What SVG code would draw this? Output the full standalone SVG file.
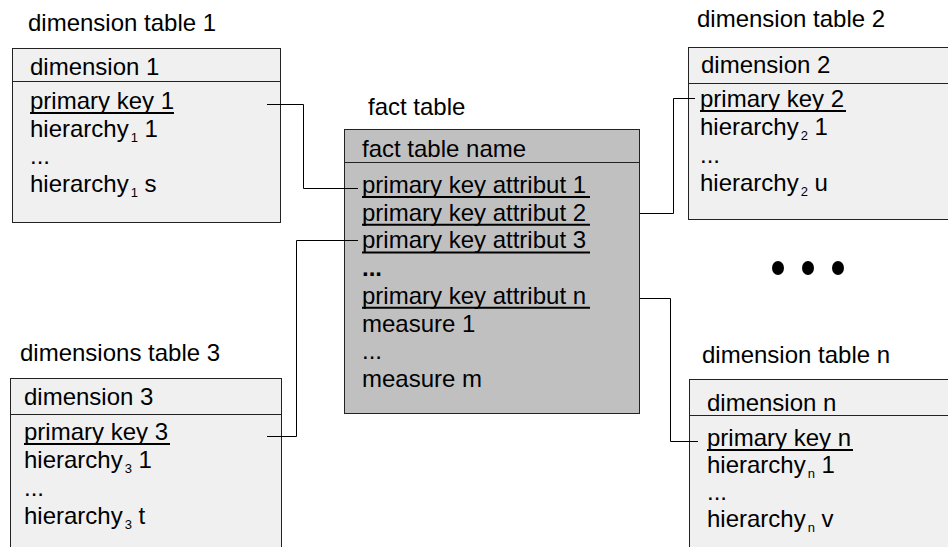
<svg xmlns="http://www.w3.org/2000/svg" width="948" height="547" viewBox="0 0 948 547">
<style>
text{font-family:"Liberation Sans",Arial,sans-serif;font-size:24px;fill:#000}
.sub{font-size:13px}
.dim{fill:#f0f0f0;stroke:#222;stroke-width:1}
.fact{fill:#c0c0c0;stroke:#222;stroke-width:1}
.div{stroke:#222;stroke-width:1}
.ul{stroke:#000;stroke-width:2}
.conn{fill:none;stroke:#000;stroke-width:1}
</style>
<rect width="948" height="547" fill="#fff"/>
<g id="dim1">
<text x="28" y="31">dimension table 1</text>
<rect class="dim" x="12.5" y="48.5" width="268" height="174"/>
<line class="div" x1="12.5" y1="81.5" x2="280.5" y2="81.5"/>
<text x="30" y="75">dimension 1</text>
<text x="30" y="109">primary key 1</text>
<line class="ul" x1="30" y1="113" x2="174" y2="113"/>
<text x="30" y="137">hierarchy<tspan class="sub" dx="2" dy="5">1</tspan><tspan dy="-5"> 1</tspan></text>
<text x="30" y="164">...</text>
<text x="30" y="192">hierarchy<tspan class="sub" dx="2" dy="5">1</tspan><tspan dy="-5"> s</tspan></text>
</g>
<g id="fact">
<text x="368" y="115">fact table</text>
<rect class="fact" x="344.5" y="129.5" width="295" height="284"/>
<line class="div" x1="344.5" y1="162.5" x2="639.5" y2="162.5"/>
<text x="362" y="157">fact table name</text>
<text x="362" y="193">primary key attribut 1</text>
<line class="ul" x1="362" y1="197" x2="590" y2="197"/>
<text x="362" y="220.7">primary key attribut 2</text>
<line class="ul" x1="362" y1="224.7" x2="590" y2="224.7"/>
<text x="362" y="248.4">primary key attribut 3</text>
<line class="ul" x1="362" y1="252.4" x2="590" y2="252.4"/>
<text x="362" y="276" font-weight="bold">...</text>
<text x="362" y="303.8">primary key attribut n</text>
<line class="ul" x1="362" y1="307.8" x2="590" y2="307.8"/>
<text x="362" y="331.5">measure 1</text>
<text x="362" y="359">...</text>
<text x="362" y="387">measure m</text>
</g>
<g id="dim2">
<text x="697" y="27">dimension table 2</text>
<rect class="dim" x="688.5" y="47.5" width="280" height="172"/>
<line class="div" x1="688.5" y1="83.5" x2="948" y2="83.5"/>
<text x="701" y="73">dimension 2</text>
<text x="700" y="107">primary key 2</text>
<line class="ul" x1="700" y1="111" x2="846" y2="111"/>
<text x="700" y="135">hierarchy<tspan class="sub" dx="2" dy="5">2</tspan><tspan dy="-5"> 1</tspan></text>
<text x="700" y="163">...</text>
<text x="700" y="191">hierarchy<tspan class="sub" dx="2" dy="5">2</tspan><tspan dy="-5"> u</tspan></text>
</g>
<g id="dots">
<ellipse cx="778" cy="268" rx="6" ry="7" fill="#000"/>
<ellipse cx="808" cy="268" rx="6" ry="7" fill="#000"/>
<ellipse cx="838" cy="268" rx="6" ry="7" fill="#000"/>
</g>
<g id="dim3">
<text x="20" y="361">dimensions table 3</text>
<rect class="dim" x="10.5" y="378.5" width="271" height="200"/>
<line class="div" x1="10.5" y1="414.5" x2="281.5" y2="414.5"/>
<text x="24" y="405">dimension 3</text>
<text x="24" y="440">primary key 3</text>
<line class="ul" x1="24" y1="444" x2="170" y2="444"/>
<text x="24" y="468">hierarchy<tspan class="sub" dx="2" dy="5">3</tspan><tspan dy="-5"> 1</tspan></text>
<text x="24" y="496">...</text>
<text x="24" y="524">hierarchy<tspan class="sub" dx="2" dy="5">3</tspan><tspan dy="-5"> t</tspan></text>
</g>
<g id="dimn">
<text x="702" y="363">dimension table n</text>
<rect class="dim" x="689.5" y="379.5" width="280" height="200"/>
<line class="div" x1="689.5" y1="415.5" x2="948" y2="415.5"/>
<text x="707" y="411">dimension n</text>
<text x="707" y="446">primary key n</text>
<line class="ul" x1="707" y1="450" x2="853" y2="450"/>
<text x="707" y="473">hierarchy<tspan class="sub" dx="2" dy="5">n</tspan><tspan dy="-5"> 1</tspan></text>
<text x="707" y="500">...</text>
<text x="707" y="527">hierarchy<tspan class="sub" dx="2" dy="5">n</tspan><tspan dy="-5"> v</tspan></text>
</g>
<g id="connectors">
<polyline class="conn" points="267,104.5 303.5,104.5 303.5,188.5 358,188.5"/>
<polyline class="conn" points="640,213.5 673.5,213.5 673.5,98.5 695,98.5"/>
<polyline class="conn" points="267,436.5 296.5,436.5 296.5,240.5 358,240.5"/>
<polyline class="conn" points="640,298.5 670.5,298.5 670.5,441.5 698,441.5"/>
</g>
</svg>
